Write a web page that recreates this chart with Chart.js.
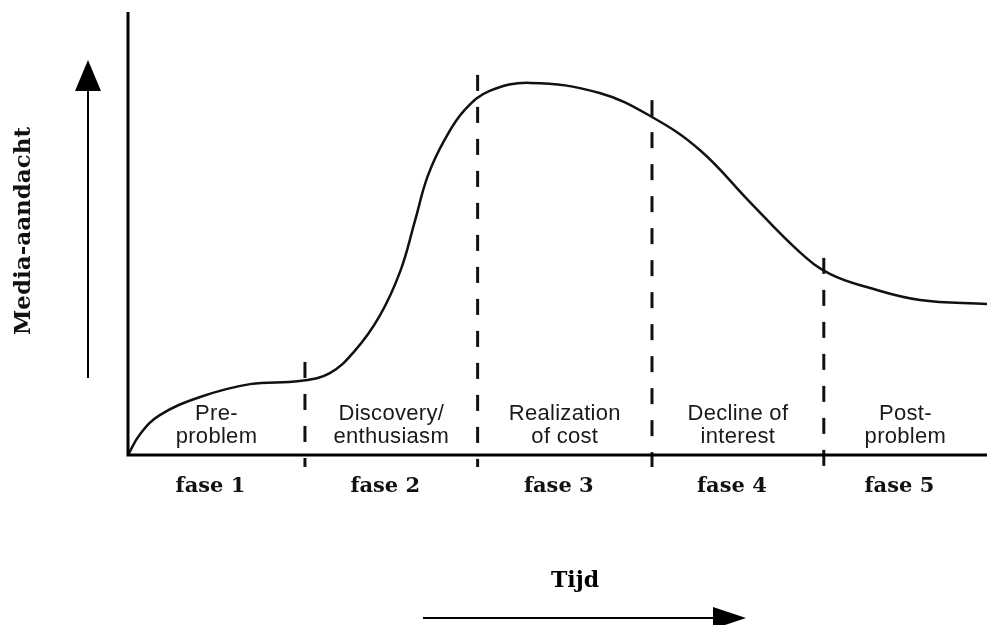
<!DOCTYPE html>
<html>
<head>
<meta charset="utf-8">
<script src="https://cdn.jsdelivr.net/npm/chart.js@4"></script>
<style>
  html, body { margin: 0; padding: 0; background: #fff; }
  #wrap { width: 987px; height: 625px; }
</style>
</head>
<body>
<div id="wrap"><canvas id="cycleChart"></canvas></div>
<script>
// curve (time units 0-100, attention units 0-100)
const timeX = [0, 1.4, 3.7, 8.4, 14.2, 20.0, 23.5, 26.4, 29.3, 31.7, 33.4, 34.9, 36.9, 39.2, 42.1, 46.8, 54.9, 61.0, 66.6, 72.4, 78.2, 81.7, 86.4, 92.2, 100];
const attention = [0, 4.7, 9.0, 13.1, 16.0, 16.7, 18.5, 23.5, 31.4, 41.5, 52.8, 63.0, 71.3, 77.9, 82.2, 84.0, 81.7, 76.3, 68.8, 57.1, 45.8, 40.9, 37.7, 35.0, 34.1];

// phase borders (dashed lines) and how high each dash line reaches
const phaseEdges = [20.6, 40.7, 61.0, 81.0];
const edgeTops = [21.0, 85.8, 80.1, 44.5];
const edgeBottom = -2.7;

const phaseNames = ['fase 1', 'fase 2', 'fase 3', 'fase 4', 'fase 5'];
const phaseDescs = [
  ['Pre-', 'problem'],
  ['Discovery/', 'enthusiasm'],
  ['Realization', 'of cost'],
  ['Decline of', 'interest'],
  ['Post-', 'problem']
];
const yTitle = 'Media-aandacht';
const xTitle = 'Tijd';

const serif = '"DejaVu Serif", "Liberation Serif", serif';
const sans = '"Liberation Sans", Arial, sans-serif';

function edgeDatasets() {
  return phaseEdges.map((x, i) => ({
    data: [{ x: x, y: edgeTops[i] }, { x: x, y: edgeBottom }],
    borderColor: '#111',
    borderWidth: 3,
    borderDash: [16, 16],
    pointRadius: 0,
    tension: 0,
    clip: false
  }));
}

const cycleDecor = {
  id: 'cycleDecor',
  afterDatasetsDraw(chart) {
    const ctx = chart.ctx;
    const xs = chart.scales.x, ys = chart.scales.y;
    const a = chart.chartArea;
    const x0 = xs.getPixelForValue(0), y0 = ys.getPixelForValue(0);
    ctx.save();

    // axes
    ctx.strokeStyle = '#000';
    ctx.lineWidth = 3;
    ctx.beginPath();
    ctx.moveTo(x0, a.top);
    ctx.lineTo(x0, y0);
    ctx.lineTo(a.right, y0);
    ctx.stroke();

    // phase texts
    const edges = [0].concat(phaseEdges, [100]);
    ctx.textAlign = 'center';
    ctx.textBaseline = 'alphabetic';
    for (let i = 0; i < phaseNames.length; i++) {
      const cx = xs.getPixelForValue((edges[i] + edges[i + 1]) / 2);
      ctx.fillStyle = '#1a1a1a';
      ctx.font = '22px ' + sans;
      ctx.letterSpacing = '0.3px';
      ctx.fillText(phaseDescs[i][0], cx, y0 - 35);
      ctx.fillText(phaseDescs[i][1], cx, y0 - 12);
      ctx.letterSpacing = '0px';
      ctx.fillStyle = '#111';
      ctx.font = 'bold 21px ' + serif;
      ctx.fillText(phaseNames[i], cx - 6, y0 + 37);
    }

    // y arrow + title
    ctx.lineWidth = 2;
    ctx.beginPath();
    ctx.moveTo(88, 378);
    ctx.lineTo(88, 88);
    ctx.stroke();
    ctx.beginPath();
    ctx.moveTo(88, 60);
    ctx.lineTo(101, 91);
    ctx.lineTo(75, 91);
    ctx.closePath();
    ctx.fillStyle = '#000';
    ctx.fill();

    ctx.save();
    ctx.translate(30, 231);
    ctx.rotate(-Math.PI / 2);
    ctx.font = 'bold 23px ' + serif;
    ctx.fillStyle = '#111';
    ctx.textAlign = 'center';
    ctx.fillText(yTitle, 0, 0);
    ctx.restore();

    // x arrow + title
    ctx.beginPath();
    ctx.moveTo(423, 618);
    ctx.lineTo(716, 618);
    ctx.stroke();
    ctx.beginPath();
    ctx.moveTo(746, 618);
    ctx.lineTo(713, 607);
    ctx.lineTo(713, 629);
    ctx.closePath();
    ctx.fill();

    ctx.font = 'bold 22px ' + serif;
    ctx.textAlign = 'center';
    ctx.fillText(xTitle, 575, 587);

    ctx.restore();
  }
};

document.addEventListener('DOMContentLoaded', () => {
  const ctx = document.getElementById('cycleChart').getContext('2d');
  new Chart(ctx, {
    type: 'line',
    data: {
      datasets: [{
        data: timeX.map((x, i) => ({ x: x, y: attention[i] })),
        borderColor: '#111',
        borderWidth: 2.5,
        pointRadius: 0,
        tension: 0.4,
        clip: false
      }].concat(edgeDatasets())
    },
    options: {
      responsive: true,
      maintainAspectRatio: false,
      animation: false,
      layout: { padding: { left: 128, right: 0, top: 12, bottom: 170 } },
      plugins: { legend: { display: false }, tooltip: { enabled: false } },
      scales: {
        x: { type: 'linear', min: 0, max: 100, display: false },
        y: { type: 'linear', min: 0, max: 100, display: false }
      }
    },
    plugins: [cycleDecor]
  });
});
</script>
</body>
</html>
